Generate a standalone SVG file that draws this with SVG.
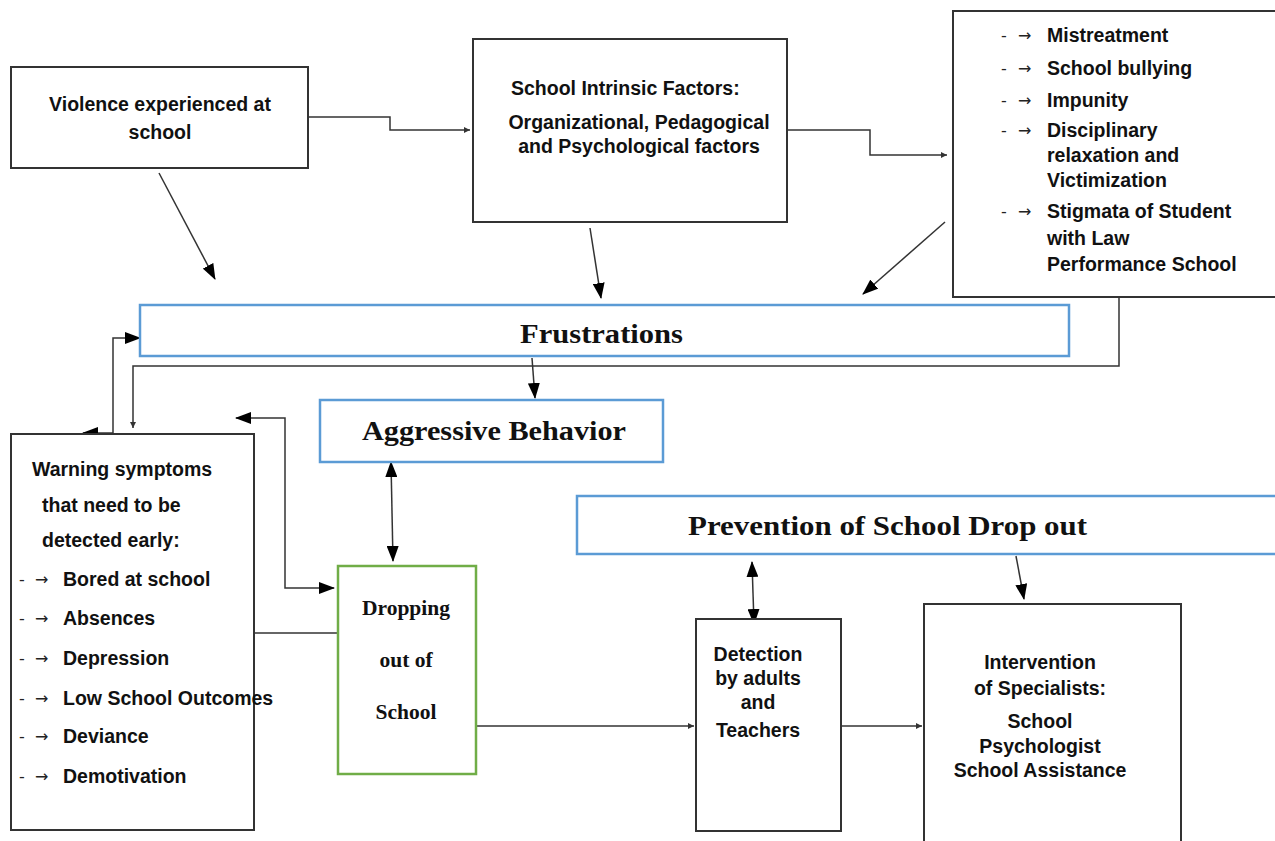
<svg xmlns="http://www.w3.org/2000/svg" width="1275" height="841" viewBox="0 0 1275 841">
<style>
.box{fill:#fff;stroke:#333;stroke-width:2}
.bbox{fill:#fff;stroke:#5b9bd5;stroke-width:2.5}
.gbox{fill:#fff;stroke:#70ad47;stroke-width:2.5}
.t{font-family:"Liberation Sans",Arial,sans-serif;font-weight:bold;font-size:19.5px;fill:#111}
.s{font-family:"Liberation Serif","Times New Roman",serif;font-weight:bold;fill:#111}
.c{fill:none;stroke:#333;stroke-width:1.5}
.d{font-family:"DejaVu Sans",sans-serif;font-size:16px;fill:#222}
</style>
<defs>
<marker id="big" viewBox="0 0 16 12" refX="15" refY="6" markerWidth="16" markerHeight="12" markerUnits="userSpaceOnUse" orient="auto-start-reverse"><path d="M0,0L16,6L0,12z" fill="#000"/></marker>
<marker id="sm" viewBox="0 0 6 6" refX="6" refY="3" markerWidth="6" markerHeight="6" markerUnits="userSpaceOnUse" orient="auto"><path d="M0,0L6,3L0,6z" fill="#333"/></marker>
</defs>
<g id="connectors">
<path class="c" d="M308,117H390V130H470" marker-end="url(#sm)"/>
<path class="c" d="M787,130H870V155H947" marker-end="url(#sm)"/>
<path class="c" d="M159,173L215,279" marker-end="url(#big)"/>
<path class="c" d="M590,228L601,298" marker-end="url(#big)"/>
<path class="c" d="M945,222L863,294" marker-end="url(#big)"/>
<path class="c" d="M1119,297V366H133V428" marker-end="url(#sm)"/>
<path class="c" d="M532,358L535,398" marker-end="url(#big)"/>
<path class="c" d="M113,434V338H140" marker-end="url(#big)"/>
<path class="c" d="M113,433H83" marker-end="url(#big)"/>
<path class="c" d="M236,418H285V588H334" marker-start="url(#big)" marker-end="url(#big)"/>
<path class="c" d="M391,462L393,561" marker-start="url(#big)" marker-end="url(#big)"/>
<path class="c" d="M254,633H338"/>
<path class="c" d="M476,726H694" marker-end="url(#sm)"/>
<path class="c" d="M841,726H922" marker-end="url(#sm)"/>
<path class="c" d="M752,562L754,624" marker-start="url(#big)" marker-end="url(#big)"/>
<path class="c" d="M1016,556L1024,599" marker-end="url(#big)"/>
</g>
<g id="violence">
<rect class="box" x="11" y="67" width="297" height="101"/>
<text class="t" x="160" y="111" text-anchor="middle">Violence experienced at</text>
<text class="t" x="160" y="139" text-anchor="middle">school</text>
</g>
<g id="intrinsic">
<rect class="box" x="473" y="39" width="314" height="183"/>
<text class="t" x="511" y="95">School Intrinsic Factors:</text>
<text class="t" x="639" y="129" text-anchor="middle">Organizational, Pedagogical</text>
<text class="t" x="639" y="153" text-anchor="middle">and Psychological factors</text>
</g>
<g id="factors">
<rect class="box" x="953" y="11" width="330" height="286"/>
<g class="d"><text x="1001" y="41">-</text><text x="1018" y="41">→</text><text x="1001" y="74">-</text><text x="1018" y="74">→</text><text x="1001" y="106">-</text><text x="1018" y="106">→</text><text x="1001" y="136">-</text><text x="1018" y="136">→</text><text x="1001" y="217">-</text><text x="1018" y="217">→</text></g>
<text class="t" x="1047" y="42">Mistreatment</text>
<text class="t" x="1047" y="75">School bullying</text>
<text class="t" x="1047" y="107">Impunity</text>
<text class="t" x="1047" y="137">Disciplinary</text>
<text class="t" x="1047" y="162">relaxation and</text>
<text class="t" x="1047" y="187">Victimization</text>
<text class="t" x="1047" y="218">Stigmata of Student</text>
<text class="t" x="1047" y="245">with Law</text>
<text class="t" x="1047" y="271">Performance School</text>
</g>
<g id="frustrations">
<rect class="bbox" x="140" y="305" width="929" height="51"/>
<text class="s" x="520" y="343" font-size="27" textLength="163" lengthAdjust="spacingAndGlyphs">Frustrations</text>
</g>
<g id="aggressive">
<rect class="bbox" x="320" y="400" width="343" height="62"/>
<text class="s" x="362" y="440" font-size="27" textLength="264" lengthAdjust="spacingAndGlyphs">Aggressive Behavior</text>
</g>
<g id="warning">
<rect class="box" x="11" y="434" width="243" height="396"/>
<text class="t" x="32" y="476">Warning symptoms</text>
<text class="t" x="42" y="512">that need to be</text>
<text class="t" x="42" y="547">detected early:</text>
<g class="d"><text x="19" y="585">-</text><text x="35" y="585">→</text><text x="19" y="624">-</text><text x="35" y="624">→</text><text x="19" y="664">-</text><text x="35" y="664">→</text><text x="19" y="704">-</text><text x="35" y="704">→</text><text x="19" y="742">-</text><text x="35" y="742">→</text><text x="19" y="782">-</text><text x="35" y="782">→</text></g>
<text class="t" x="63" y="586">Bored at school</text>
<text class="t" x="63" y="625">Absences</text>
<text class="t" x="63" y="665">Depression</text>
<text class="t" x="63" y="705">Low School Outcomes</text>
<text class="t" x="63" y="743">Deviance</text>
<text class="t" x="63" y="783">Demotivation</text>
</g>
<g id="dropping">
<rect class="gbox" x="338" y="566" width="138" height="208"/>
<text class="s" x="406" y="615" font-size="21.5" text-anchor="middle">Dropping</text>
<text class="s" x="406" y="667" font-size="21.5" text-anchor="middle">out of</text>
<text class="s" x="406" y="719" font-size="21.5" text-anchor="middle">School</text>
</g>
<g id="prevention">
<rect class="bbox" x="577" y="496" width="710" height="58"/>
<text class="s" x="688" y="535" font-size="28" textLength="399" lengthAdjust="spacingAndGlyphs">Prevention  of School Drop out</text>
</g>
<g id="detection">
<rect class="box" x="696" y="619" width="145" height="212"/>
<text class="t" x="758" y="661" text-anchor="middle">Detection</text>
<text class="t" x="758" y="685" text-anchor="middle">by adults</text>
<text class="t" x="758" y="709" text-anchor="middle">and</text>
<text class="t" x="758" y="737" text-anchor="middle">Teachers</text>
</g>
<g id="intervention">
<rect class="box" x="924" y="604" width="257" height="250"/>
<text class="t" x="1040" y="669" text-anchor="middle">Intervention</text>
<text class="t" x="1040" y="695" text-anchor="middle">of Specialists:</text>
<text class="t" x="1040" y="728" text-anchor="middle">School</text>
<text class="t" x="1040" y="753" text-anchor="middle">Psychologist</text>
<text class="t" x="1040" y="777" text-anchor="middle">School Assistance</text>
</g>
</svg>
